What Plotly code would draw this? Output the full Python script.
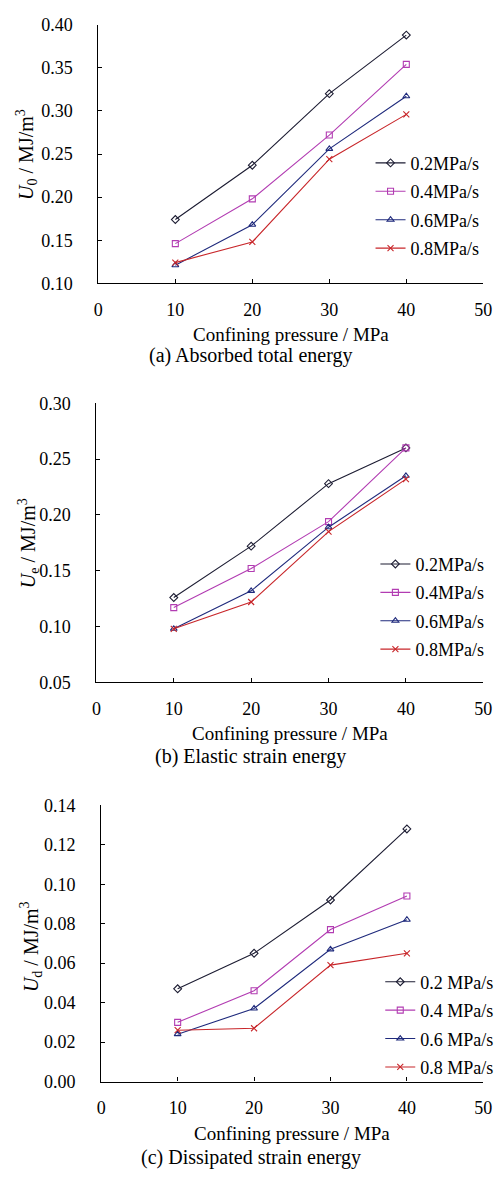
import plotly.graph_objects as go

# Confining pressure (MPa) and loading rates
pressure = [10, 20, 30, 40]
rates = ["0.2", "0.4", "0.6", "0.8"]

# (a) Absorbed total energy U0 (MJ/m^3)
u0_02 = [0.174, 0.237, 0.320, 0.388]
u0_04 = [0.146, 0.198, 0.272, 0.354]
u0_06 = [0.121, 0.168, 0.256, 0.317]
u0_08 = [0.124, 0.148, 0.244, 0.296]

# (b) Elastic strain energy Ue (MJ/m^3)
ue_02 = [0.126, 0.172, 0.228, 0.260]
ue_04 = [0.117, 0.152, 0.194, 0.260]
ue_06 = [0.098, 0.132, 0.189, 0.235]
ue_08 = [0.098, 0.122, 0.185, 0.232]

# (c) Dissipated strain energy Ud (MJ/m^3)
ud_02 = [0.047, 0.065, 0.092, 0.128]
ud_04 = [0.030, 0.046, 0.077, 0.094]
ud_06 = [0.024, 0.037, 0.067, 0.082]
ud_08 = [0.026, 0.027, 0.059, 0.065]

W, H = 503, 1180
SERIF = "Liberation Serif, Times New Roman, serif"

colors = ["#1d1d33", "#b23cb2", "#1f2a7c", "#c8262a"]
symbols = ["diamond-open", "square-open", "triangle-up-open", "x-thin-open"]

panels = [
    dict(data=[u0_02, u0_04, u0_06, u0_08], yrange=[0.10, 0.40], dtick=0.05,
         xdom=(96, 492), ydom=(15, 278), sep="", leg=(376, 137),
         ytitle="<i>U</i><sub>0</sub> / MJ/m<sup>3</sup>", ytx=(22, 147),
         caption="(a) Absorbed total energy", xt=330, cap=351),
    dict(data=[ue_02, ue_04, ue_06, ue_08], yrange=[0.05, 0.30], dtick=0.05,
         xdom=(94, 492), ydom=(400, 684), sep="", leg=(381, 545),
         ytitle="<i>U</i><sub>e</sub> / MJ/m<sup>3</sup>", ytx=(24, 542),
         caption="(b) Elastic strain energy", xt=736, cap=759),
    dict(data=[ud_02, ud_04, ud_06, ud_08], yrange=[0.00, 0.14], dtick=0.02,
         xdom=(99, 492), ydom=(809, 1090), sep=" ", leg=(386, 970),
         ytitle="<i>U</i><sub>d</sub> / MJ/m<sup>3</sup>", ytx=(27, 953),
         caption="(c) Dissipated strain energy", xt=1143, cap=1167),
]

fig = go.Figure()
layout = dict(
    width=W, height=H, margin=dict(l=0, r=0, t=0, b=0),
    paper_bgcolor="white", plot_bgcolor="white",
    font=dict(family=SERIF, size=18, color="black"),
    annotations=[],
)

for i, p in enumerate(panels):
    n = "" if i == 0 else str(i + 1)
    legname = "legend" + n
    for k, (rate, vals) in enumerate(zip(rates, p["data"])):
        fig.add_trace(go.Scatter(
            x=pressure, y=vals, mode="lines+markers",
            name=f"{rate}{p['sep']}MPa/s",
            line=dict(color=colors[k], width=1.1),
            marker=dict(symbol=symbols[k], size=6, color=colors[k],
                        line=dict(color=colors[k], width=1.1)),
            xaxis="x" + n, yaxis="y" + n, legend=legname,
            legendgroup=f"g{i}{k}",
        ))
    axcommon = dict(showline=True, linecolor="black", linewidth=1.2,
                    ticks="inside", ticklen=4, tickcolor="black",
                    showgrid=False, zeroline=False,
                    tickfont=dict(family=SERIF, size=18, color="black"))
    layout["xaxis" + n] = dict(
        axcommon, domain=[p["xdom"][0] / W, p["xdom"][1] / W],
        range=[0, 50], tick0=0, dtick=10, anchor="y" + n,
        ticklabelstandoff=10,
    )
    layout["yaxis" + n] = dict(
        axcommon, domain=[1 - p["ydom"][1] / H, 1 - p["ydom"][0] / H],
        range=p["yrange"], tick0=p["yrange"][0], dtick=p["dtick"],
        tickformat=".2f", anchor="x" + n, ticklabelstandoff=21,
    )
    layout[legname] = dict(
        x=p["leg"][0] / W, y=1 - p["leg"][1] / H, xanchor="left", yanchor="top",
        bgcolor="rgba(0,0,0,0)", font=dict(family=SERIF, size=18),
        tracegroupgap=2, itemwidth=30,
    )
    cx = (p["xdom"][0] + p["xdom"][1]) / 2 / W
    layout["annotations"] += [
        dict(text=p["ytitle"], textangle=-90, xref="paper", yref="paper",
             x=p["ytx"][0] / W, y=1 - p["ytx"][1] / H, showarrow=False,
             xanchor="center", yanchor="middle",
             font=dict(family=SERIF, size=20)),
        dict(text="Confining pressure / MPa", xref="paper", yref="paper",
             x=cx, y=1 - p["xt"] / H, showarrow=False,
             xanchor="center", yanchor="middle",
             font=dict(family=SERIF, size=19)),
        dict(text=p["caption"], xref="paper", yref="paper",
             x=253 / W, y=1 - p["cap"] / H, showarrow=False,
             xanchor="center", yanchor="middle",
             font=dict(family=SERIF, size=20)),
    ]

fig.update_layout(**layout)
fig.write_html("out.html")
